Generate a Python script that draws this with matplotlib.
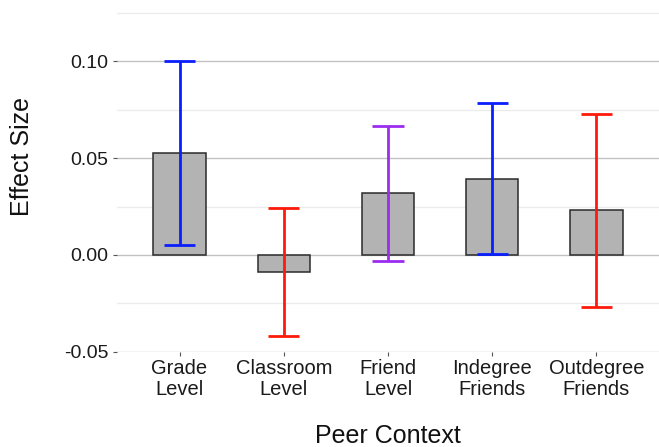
import numpy as np
import matplotlib.pyplot as plt
from matplotlib.ticker import MultipleLocator

plt.rcParams['font.family'] = ['Liberation Sans', 'DejaVu Sans']

# Effect sizes with confidence bounds per peer context
contexts = ['Grade\nLevel', 'Classroom\nLevel', 'Friend\nLevel', 'Indegree\nFriends', 'Outdegree\nFriends']
effect = [0.0525, -0.0089, 0.0318, 0.0392, 0.0232]
lower = [0.0052, -0.0418, -0.0031, 0.0007, -0.0267]
upper = [0.1000, 0.0243, 0.0664, 0.0783, 0.0729]
bar_colors = ['#0a1eff', '#ff1a0a', '#9b2cf0', '#0a1eff', '#ff1a0a']

fig = plt.figure(figsize=(6.59, 4.47), dpi=100)
ax = fig.add_axes([117 / 659, 1 - 352 / 447, 1 - 117 / 659, 352 / 447])

x = np.arange(len(contexts))
ax.bar(x, effect, width=0.5, color='#b3b3b3', edgecolor='#2b2b2b', linewidth=1.1, zorder=2)

# error bars with caps, one colour per context
for xi, lo, hi, c in zip(x, lower, upper, bar_colors):
    ax.plot([xi, xi], [lo, hi], color=c, lw=2.0, zorder=3, solid_capstyle='butt')
    for v in (lo, hi):
        ax.plot([xi - 0.15, xi + 0.15], [v, v], color=c, lw=2.0, zorder=3, solid_capstyle='butt')

ax.set_xlim(-0.6, 4.6)
ax.set_ylim(-0.0501, 0.1317)
ax.yaxis.set_minor_locator(MultipleLocator(0.025))
ax.set_yticks([-0.05, 0.0, 0.05, 0.10])
ax.set_yticklabels(['-0.05', '0.00', '0.05', '0.10'])
ax.set_xticks(x)
ax.set_xticklabels(contexts, linespacing=1.15, fontsize=14.5)

ax.grid(which='major', axis='y', color='#c2c2c2', lw=1.0, zorder=0)
ax.grid(which='minor', axis='y', color='#ececec', lw=1.0, zorder=0)
for s in ax.spines.values():
    s.set_visible(False)
ax.tick_params(axis='both', which='major', length=3, width=0.8, color='#555555',
               labelsize=14, labelcolor='#1a1a1a', pad=3)
ax.tick_params(axis='x', labelsize=14.5, pad=2)
ax.tick_params(axis='y', which='minor', length=0)

fig.text(22 / 659, 1 - 157 / 447, 'Effect Size', rotation=90, ha='center', va='center',
         fontsize=18, color='#111111')
fig.text(388 / 659, 1 - 436 / 447, 'Peer Context', ha='center', va='center',
         fontsize=18, color='#111111')

fig.savefig('out.png', dpi=100)
